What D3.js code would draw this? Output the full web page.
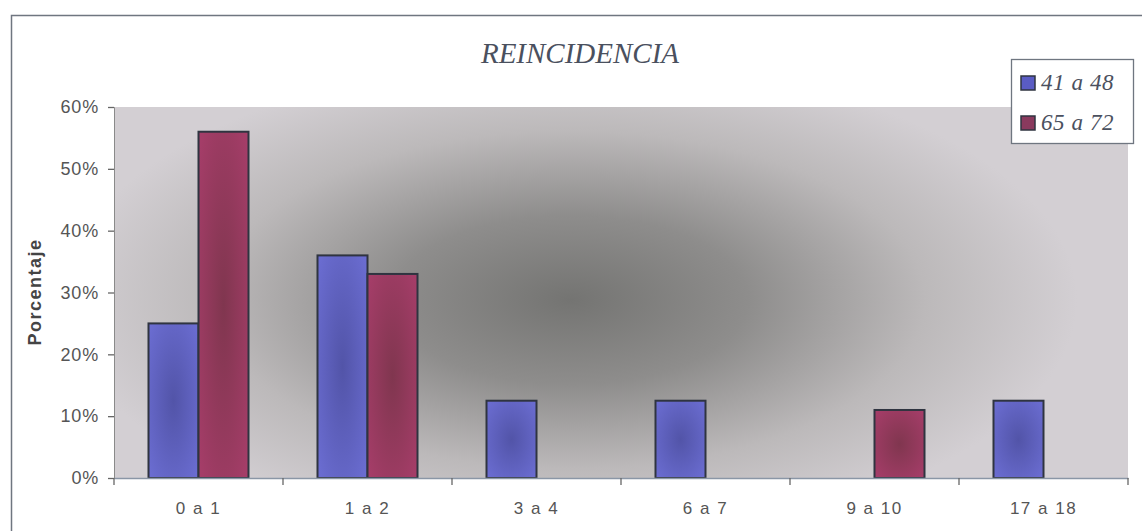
<!DOCTYPE html>
<html>
<head>
<meta charset="utf-8">
<script src="https://cdn.jsdelivr.net/npm/d3@7/dist/d3.min.js"></script>
<style>
  html, body { margin: 0; padding: 0; background: #ffffff; }
  svg { display: block; }
</style>
</head>
<body>
<svg id="chart" width="1142" height="531"></svg>
<script>
// Reincidence distribution by age group
const categories = ["0 a 1", "1 a 2", "3 a 4", "6 a 7", "9 a 10", "17 a 18"];
const seriesNames = ["41 a 48", "65 a 72"];
const values4148 = [25, 36, 12.5, 12.5, 0, 12.5];
const values6572 = [56, 33, 0, 0, 11, 0];
const yTicks = [0, 10, 20, 30, 40, 50, 60];

const series = [
  { name: seriesNames[0], values: values4148, fill: "url(#gradBlue)" },
  { name: seriesNames[1], values: values6572, fill: "url(#gradRed)" }
];

const svg = d3.select("#chart");
const plot = { left: 114, top: 107, right: 1128, bottom: 478 };

const defs = svg.append("defs");

// Plot background: light grey with a dark diffuse patch in the middle
const bg = defs.append("radialGradient").attr("id", "gradBg")
  .attr("cx", 0.45).attr("cy", 0.52).attr("r", 0.5)
  .attr("gradientTransform", "translate(0.45,0.52) scale(1,1.3) translate(-0.45,-0.52)");
bg.append("stop").attr("offset", "0%").attr("stop-color", "#747472");
bg.append("stop").attr("offset", "35%").attr("stop-color", "#8e8d8c");
bg.append("stop").attr("offset", "70%").attr("stop-color", "#bcb9ba");
bg.append("stop").attr("offset", "100%").attr("stop-color", "#d3cfd3");

function barGradient(id, edge, center) {
  const g = defs.append("radialGradient").attr("id", id)
    .attr("cx", 0.5).attr("cy", 0.5).attr("r", 0.65);
  g.append("stop").attr("offset", "0%").attr("stop-color", center);
  g.append("stop").attr("offset", "100%").attr("stop-color", edge);
}
barGradient("gradBlue", "#6a6cd0", "#5254a8");
barGradient("gradRed", "#a43d68", "#80364f");

// Outer chart frame
svg.append("rect")
  .attr("x", 11.5).attr("y", 15.5)
  .attr("width", 1150).attr("height", 540)
  .attr("fill", "none").attr("stroke", "#6f7680").attr("stroke-width", 1.5);

// Plot area
const plotW = plot.right - plot.left, plotH = plot.bottom - plot.top;
svg.append("rect")
  .attr("x", plot.left).attr("y", plot.top).attr("width", plotW).attr("height", plotH)
  .attr("fill", "#d0ccd0");
svg.append("rect")
  .attr("x", plot.left).attr("y", plot.top).attr("width", plotW).attr("height", plotH)
  .attr("fill", "url(#gradBg)");

const x0 = d3.scaleBand().domain(categories)
  .range([plot.left, plot.right]).paddingInner(0).paddingOuter(0);
const x1 = d3.scaleBand().domain(seriesNames)
  .range([0, x0.bandwidth()]).paddingInner(0).paddingOuter(0.69);
const y = d3.scaleLinear().domain([0, 60]).range([plot.bottom, plot.top]);

// Bars
categories.forEach((cat, i) => {
  series.forEach(s => {
    const v = s.values[i];
    if (v <= 0) return;
    svg.append("rect")
      .attr("x", x0(cat) + x1(s.name))
      .attr("y", y(v))
      .attr("width", x1.bandwidth())
      .attr("height", y(0) - y(v))
      .attr("fill", s.fill)
      .attr("stroke", "#2f3440")
      .attr("stroke-width", 2);
  });
});

const sans = "Liberation Sans, Arial, sans-serif";
const serif = "Liberation Serif, Times New Roman, serif";

// Y axis
const yAxis = d3.axisLeft(y).tickValues(yTicks)
  .tickFormat(d => d + "%").tickSize(6).tickPadding(9);
const gy = svg.append("g").attr("transform", `translate(${plot.left},0)`).call(yAxis);
gy.select(".domain").attr("stroke", "#8a8a8a").attr("stroke-width", 1);
gy.selectAll(".tick line").attr("stroke", "#666").attr("stroke-width", 1.3);
gy.selectAll("text")
  .attr("font-family", sans).attr("font-size", 18).attr("fill", "#555")
  .attr("letter-spacing", "0.8px");

// X axis: ticks at category boundaries
const xAxis = d3.axisBottom(x0).tickSize(0).tickPadding(24);
const gx = svg.append("g").attr("transform", `translate(0,${plot.bottom})`).call(xAxis);
gx.select(".domain").attr("stroke", "#8a96a6").attr("stroke-width", 1.3);
gx.selectAll("text")
  .attr("font-family", sans).attr("font-size", 17).attr("fill", "#555")
  .attr("letter-spacing", "1.5px");
const boundaries = categories.map(c => x0(c)).concat([plot.right]);
gx.selectAll("line.bound").data(boundaries).enter().append("line")
  .attr("class", "bound")
  .attr("x1", d => d).attr("x2", d => d)
  .attr("y1", 0).attr("y2", 7)
  .attr("stroke", "#666").attr("stroke-width", 1.3);

// Y axis title
svg.append("text")
  .attr("transform", "translate(41,292) rotate(-90)")
  .attr("text-anchor", "middle")
  .attr("font-family", sans)
  .attr("font-weight", "bold").attr("font-size", 18)
  .attr("letter-spacing", "1.5px")
  .attr("fill", "#444")
  .text("Porcentaje");

// Chart title
svg.append("text")
  .attr("x", 580).attr("y", 63)
  .attr("text-anchor", "middle")
  .attr("font-family", serif)
  .attr("font-style", "italic").attr("font-size", 29)
  .attr("fill", "#4a505e")
  .text("REINCIDENCIA");

// Legend
const lg = svg.append("g").attr("transform", "translate(1011,59)");
lg.append("rect").attr("x", 0.5).attr("y", 0.5).attr("width", 122).attr("height", 84)
  .attr("fill", "#ffffff").attr("stroke", "#6f7680").attr("stroke-width", 1.3);
const legendColors = ["#5a5cc4", "#8a3a5e"];
seriesNames.forEach((name, i) => {
  const yy = 31 + i * 40;
  lg.append("rect").attr("x", 10).attr("y", yy - 14).attr("width", 14).attr("height", 14)
    .attr("fill", legendColors[i]).attr("stroke", "#2f3440").attr("stroke-width", 1.5);
  lg.append("text").attr("x", 30).attr("y", yy)
    .attr("font-family", serif)
    .attr("font-style", "italic").attr("font-size", 23)
    .attr("letter-spacing", "0.6px")
    .attr("fill", "#4a505e")
    .text(name);
});
</script>
</body>
</html>
